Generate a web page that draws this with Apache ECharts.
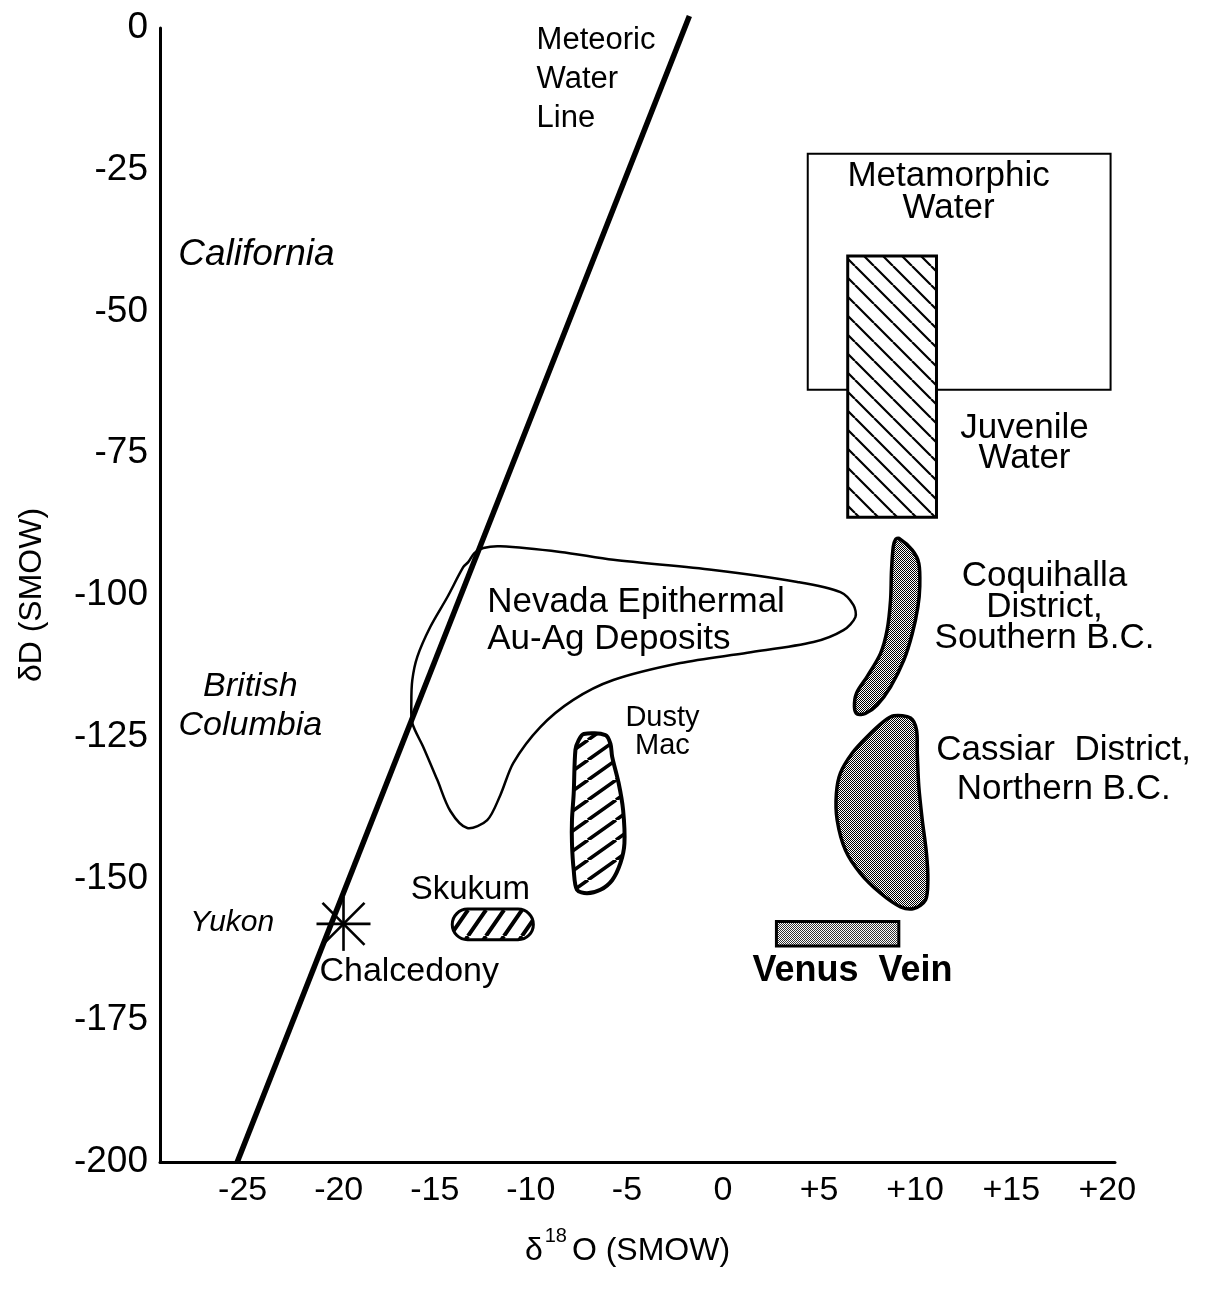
<!DOCTYPE html>
<html>
<head>
<meta charset="utf-8">
<script src="https://cdn.jsdelivr.net/npm/echarts@6/dist/echarts.min.js"></script>
<style>
html,body{margin:0;padding:0;background:#fff;}
#chart{width:1209px;height:1289px;}
</style>
</head>
<body>
<div id="chart"></div>
<script>
// ---------------- DATA (data units) ----------------
const xTickValues = [-25, -20, -15, -10, -5, 0, 5, 10, 15, 20];
const yTickInterval = 25;

// Meteoric Water Line end points
const mwlX = [-25.28, -1.75];
const mwlY = [-200, 2.1];

// Metamorphic Water box
const metamorphicX = [4.41, 20.17];
const metamorphicY = [-22.2, -63.8];

// Juvenile Water box
const juvenileX = [6.49, 11.11];
const juvenileY = [-40.2, -86.3];

// Venus Vein bar
const venusX = [2.78, 9.15];
const venusY = [-157.6, -161.9];

// Skukum field
const skukumX = [-14.09, -9.87];
const skukumY = [-155.4, -160.8];

// Yukon chalcedony point
const yukonX = [-19.75];
const yukonY = [-158.0];

// Nevada Epithermal Au-Ag field outline
const nevadaX = [-13.26, -12.94, -12.47, -11.59, -8.47, -5.71, -0.50, 3.87, 6.11, 6.79, 6.89, 6.27, 4.71, 1.27, -2.22, -5.71, -7.79, -9.51, -10.91, -11.59, -12.27, -13.31, -14.19, -14.87, -15.60, -16.17, -16.22, -16.17, -15.91, -15.23, -14.35, -13.52];
const nevadaY = [-94.2, -92.6, -91.7, -91.4, -92.4, -93.8, -95.6, -97.7, -99.5, -101.8, -103.9, -106.2, -108.3, -110.2, -112.0, -115.0, -118.5, -123.3, -129.6, -135.3, -139.7, -141.1, -138.1, -132.6, -126.8, -122.6, -119.0, -115.0, -110.9, -105.6, -100.4, -95.1];

// Dusty Mac field outline
const dustyX = [-7.25, -6.12, -5.86, -5.77, -5.43, -5.20, -5.13, -5.34, -5.77, -6.38, -7.08, -7.60, -7.77, -7.86, -7.86, -7.77, -7.68, -7.51];
const dustyY = [-124.5, -124.7, -126.2, -128.5, -133.2, -137.9, -143.8, -147.3, -150.3, -152.0, -152.6, -152.0, -148.5, -143.8, -139.7, -135.0, -127.3, -125.6];

// Coquihalla District field outline
const coquihallaX = [9.15, 9.85, 10.19, 10.24, 10.14, 9.85, 9.41, 8.72, 8.02, 7.41, 6.98, 6.84, 6.95, 7.50, 8.20, 8.54, 8.72, 8.77, 8.86, 8.98];
const coquihallaY = [-90.0, -92.1, -94.4, -98.5, -102.1, -106.8, -111.5, -116.2, -119.4, -120.9, -121.0, -119.7, -117.3, -114.4, -110.3, -106.2, -100.9, -95.6, -91.5, -90.2];

// Cassiar District field outline
const cassiarX = [8.89, 9.76, 10.07, 10.11, 10.19, 10.37, 10.59, 10.66, 10.54, 9.93, 9.24, 8.20, 7.15, 6.37, 5.94, 5.90, 6.11, 6.72, 7.50, 8.37];
const cassiarY = [-121.3, -121.7, -123.8, -127.9, -133.8, -139.7, -145.6, -150.3, -153.8, -155.3, -155.0, -152.6, -149.1, -145.0, -139.7, -135.0, -131.4, -127.9, -125.0, -122.3];

// Text annotations (anchor in data units)
const labelText = [
  'Meteoric\nWater\nLine',
  'Metamorphic\nWater',
  'Juvenile\nWater',
  'California',
  'British\nColumbia',
  'Yukon',
  'Chalcedony',
  'Skukum',
  'Nevada Epithermal\nAu-Ag Deposits',
  'Dusty\nMac',
  'Coquihalla\nDistrict,\nSouthern B.C.',
  'Cassiar  District,\nNorthern B.C.',
  'Venus  Vein'
];
const labelX = [-9.70, 11.74, 15.69, -28.35, -24.6, -25.54, -16.33, -13.15, -12.27, -3.15, 16.73, 17.73, 6.74];
const labelY = [-9.0, -28.9, -73.2, -40.0, -119.6, -157.7, -166.4, -152.0, -104.6, -124.2, -102.1, -130.9, -166.4];

// ---------------- STYLES ----------------
const FONT = '"Liberation Sans", Arial, Helvetica, sans-serif';
const labelStyles = [
  {size: 31, align: 'left', lh: 39},
  {size: 35, align: 'center', lh: 32},
  {size: 35, align: 'center', lh: 30},
  {size: 37, align: 'left', lh: 40, italic: true},
  {size: 34, align: 'center', lh: 39, italic: true},
  {size: 30, align: 'center', lh: 34, italic: true},
  {size: 34, align: 'center', lh: 38},
  {size: 33, align: 'center', lh: 38},
  {size: 35, align: 'left', lh: 37},
  {size: 29, align: 'center', lh: 28},
  {size: 35, align: 'center', lh: 31},
  {size: 35, align: 'center', lh: 39},
  {size: 36, align: 'center', lh: 40, bold: true}
];

function hatch(w, h, lw, dir) {
  const c = document.createElement('canvas');
  c.width = w; c.height = h;
  const g = c.getContext('2d');
  g.fillStyle = '#fff';
  g.fillRect(0, 0, w, h);
  g.strokeStyle = '#000';
  g.lineWidth = lw;
  g.beginPath();
  for (const k of [-1, 0, 1]) {
    if (dir === '/') { g.moveTo(k * w, h); g.lineTo(k * w + w, 0); }
    else { g.moveTo(k * w, 0); g.lineTo(k * w + w, h); }
  }
  g.stroke();
  return {image: c, repeat: 'repeat'};
}
function stipple(col) {
  const c = document.createElement('canvas');
  c.width = 2; c.height = 2;
  const g = c.getContext('2d');
  g.fillStyle = '#fff';
  g.fillRect(0, 0, 2, 2);
  g.fillStyle = col;
  g.fillRect(0, 0, 1, 1);
  g.fillRect(1, 1, 1, 1);
  return {image: c, repeat: 'repeat'};
}

const juvenileFill = hatch(19, 19, 2.2, '\\');
const dustyFill = hatch(28, 20, 3.5, '/');
const skukumFill = hatch(18, 26, 4, '/');
const grayFill = stipple('#000');
const venusFill = stipple('#333');

function pts(xs, ys) { return xs.map((x, i) => [x, ys[i]]); }

function polygonSeries(name, xs, ys, style, smooth, z) {
  return {
    type: 'custom', name, z, silent: true,
    data: pts(xs, ys),
    renderItem: function (params, api) {
      if (params.dataIndex !== 0) return null;
      const points = xs.map((x, i) => api.coord([x, ys[i]]));
      return {type: 'polygon', shape: {points, smooth}, style};
    }
  };
}
function rectSeries(name, xs, ys, style, rounded, z) {
  return {
    type: 'custom', name, z, silent: true,
    data: pts(xs, ys),
    renderItem: function (params, api) {
      if (params.dataIndex !== 0) return null;
      const a = api.coord([xs[0], ys[0]]);
      const b = api.coord([xs[1], ys[1]]);
      const x = Math.min(a[0], b[0]), y = Math.min(a[1], b[1]);
      const w = Math.abs(a[0] - b[0]), h = Math.abs(a[1] - b[1]);
      return {type: 'rect', shape: {x, y, width: w, height: h, r: rounded ? h / 2 : 0}, style};
    }
  };
}

const chart = echarts.init(document.getElementById('chart'), null, {renderer: 'canvas'});

const option = {
  backgroundColor: '#fff',
  animation: false,
  grid: {left: 160, right: 94, top: 28, bottom: 127, containLabel: false, outerBoundsMode: 'none'},
  xAxis: {
    type: 'value', min: -29.3, max: 20.4,
    name: '{d|δ}{s|18}{d|O (SMOW)}',
    nameLocation: 'middle', nameGap: 64,
    nameTextStyle: {
      color: '#000', fontFamily: FONT, fontSize: 32, padding: [0, 20, 0, 0],
      rich: {
        d: {fontSize: 32, fontFamily: FONT, color: '#000', lineHeight: 50},
        s: {fontSize: 20, fontFamily: FONT, color: '#000', lineHeight: 20, verticalAlign: 'top', padding: [0, 5, 0, 2]}
      }
    },
    axisLine: {show: true, onZero: false, lineStyle: {color: '#000', width: 3}},
    axisTick: {show: false},
    splitLine: {show: false},
    axisLabel: {
      customValues: xTickValues,
      color: '#000', fontFamily: FONT, fontSize: 34, margin: 12,
      formatter: v => (v > 0 ? '+' + v : String(v))
    }
  },
  yAxis: {
    type: 'value', min: -200, max: 0, interval: yTickInterval,
    name: 'δD (SMOW)', nameLocation: 'middle', nameGap: 112,
    nameTextStyle: {color: '#000', fontFamily: FONT, fontSize: 32},
    axisLine: {show: true, onZero: false, lineStyle: {color: '#000', width: 3}},
    axisTick: {show: false},
    splitLine: {show: false},
    axisLabel: {color: '#000', fontFamily: FONT, fontSize: 37, margin: 12}
  },
  series: [
    rectSeries('Metamorphic Water', metamorphicX, metamorphicY, {fill: 'none', stroke: '#000', lineWidth: 2}, false, 1),
    polygonSeries('Nevada', nevadaX, nevadaY, {fill: 'none', stroke: '#000', lineWidth: 2.5}, 0.3, 2),
    rectSeries('Juvenile Water', juvenileX, juvenileY, {fill: juvenileFill, stroke: '#000', lineWidth: 3}, false, 3),
    polygonSeries('Dusty Mac', dustyX, dustyY, {fill: dustyFill, stroke: '#000', lineWidth: 4}, 0.3, 3),
    polygonSeries('Coquihalla', coquihallaX, coquihallaY, {fill: grayFill, stroke: '#000', lineWidth: 3.5}, 0.3, 3),
    polygonSeries('Cassiar', cassiarX, cassiarY, {fill: grayFill, stroke: '#000', lineWidth: 3.5}, 0.3, 3),
    rectSeries('Venus Vein', venusX, venusY, {fill: venusFill, stroke: '#000', lineWidth: 3}, false, 3),
    rectSeries('Skukum', skukumX, skukumY, {fill: skukumFill, stroke: '#000', lineWidth: 3}, true, 3),
    {
      type: 'line', name: 'Meteoric Water Line', z: 5, silent: true,
      data: pts(mwlX, mwlY), symbol: 'none', clip: false,
      lineStyle: {color: '#000', width: 5.5, cap: 'butt'}
    },
    {
      type: 'custom', name: 'Yukon Chalcedony', z: 6, silent: true,
      data: pts(yukonX, yukonY),
      renderItem: function (params, api) {
        const p = api.coord([api.value(0), api.value(1)]);
        const r = 27, d = 21;
        const segs = [[-r, 0, r, 0], [0, -r, 0, r], [-d, -d, d, d], [d, -d, -d, d]];
        return {
          type: 'group', x: p[0], y: p[1],
          children: segs.map(s => ({type: 'line', shape: {x1: s[0], y1: s[1], x2: s[2], y2: s[3]}, style: {stroke: '#000', lineWidth: 2.6}}))
        };
      }
    },
    {
      type: 'custom', name: 'labels', z: 10, silent: true,
      data: pts(labelX, labelY),
      renderItem: function (params, api) {
        const i = params.dataIndex;
        const p = api.coord([api.value(0), api.value(1)]);
        const s = labelStyles[i];
        return {
          type: 'text', x: p[0], y: p[1],
          style: {
            text: labelText[i], fill: '#000',
            fontFamily: FONT, fontSize: s.size,
            fontStyle: s.italic ? 'italic' : 'normal',
            fontWeight: s.bold ? 'bold' : 'normal',
            align: s.align, verticalAlign: 'middle', lineHeight: s.lh
          }
        };
      }
    }
  ]
};
chart.setOption(option);
</script>
</body>
</html>
